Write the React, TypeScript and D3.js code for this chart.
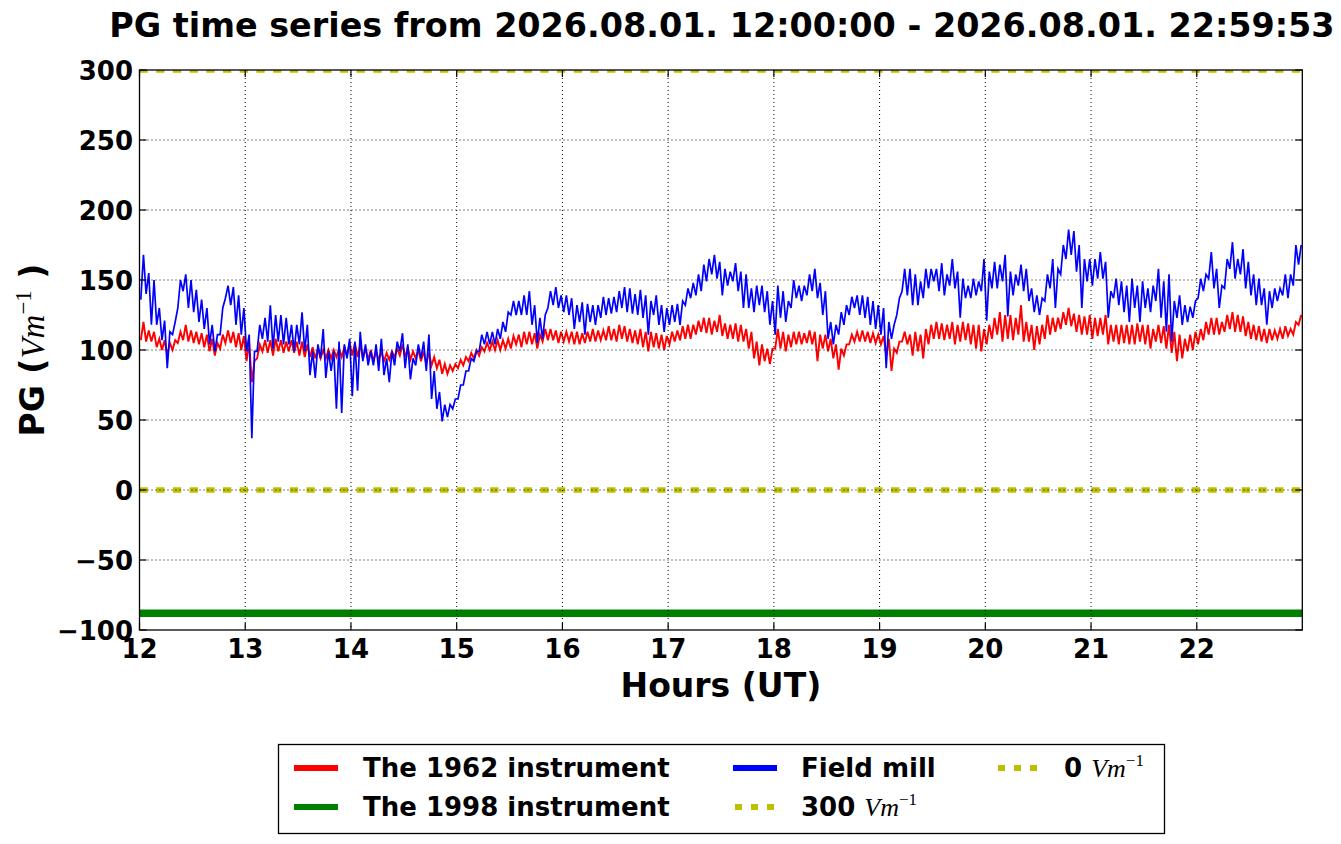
import React from "react";
import * as d3 from "d3";

const W = 1341;
const H = 844;

const titleText = "PG time series from 2026.08.01. 12:00:00 - 2026.08.01. 22:59:53";
const xTicks = [12, 13, 14, 15, 16, 17, 18, 19, 20, 21, 22];
const yTicks = [-100, -50, 0, 50, 100, 150, 200, 250, 300];
const startHour = 12;
const endHour = 22.998;
const binHours = 0.05;

// Field mill: low / high of each 3-minute bin
const blueLow = [
  136,140,118,118,107,87,111,130,142,130,127,120,115,104,99,111,137,132,118,111,
  99,37,99,108,106,101,106,104,104,99,104,99,82,80,94,80,85,58,55,94,
  67,71,92,89,89,85,82,77,89,99,87,79,89,94,85,65,58,49,52,58,
  65,75,85,92,99,104,104,104,108,113,125,125,125,
  125,118,105,108,130,132,130,127,125,115,120,111,120,118,123,125,126,127,130,127,
  126,125,123,111,125,118,113,118,120,118,132,137,139,142,149,154,151,139,146,149,
  142,130,130,127,132,127,118,111,123,120,130,137,135,139,142,137,125,108,104,111,
  118,125,130,125,123,118,115,111,87,108,125,142,139,132,
  132,137,144,149,142,139,146,144,123,137,137,139,142,121,144,144,149,124,139,146,
  142,135,127,125,135,144,130,154,165,168,156,130,149,146,151,151,123,137,132,127,
  120,130,120,130,127,135,123,113,106,123,118,120,123,137,142,151,144,130,144,158,
  151,154,144,139,132,132,118,130,135,139,137,146,161
];
const blueHigh = [
  168,155,150,130,121,113,120,150,154,150,143,136,130,118,111,130,146,145,139,130,
  111,99,118,123,132,125,125,123,118,118,127,118,99,104,115,99,99,106,104,108,
  106,113,104,99,104,108,94,99,106,112,104,94,104,106,111,85,70,61,61,65,
  75,85,94,99,111,113,113,115,120,127,135,135,139,
  142,132,123,125,142,145,139,139,137,132,134,133,132,132,138,137,138,142,145,144,
  140,143,139,135,139,132,130,132,133,135,144,148,154,161,165,168,163,158,156,162,
  156,154,144,146,146,142,135,146,142,135,150,146,146,154,158,148,142,120,118,127,
  132,138,139,139,138,135,132,130,120,118,137,158,158,154,
  149,158,158,158,162,154,165,156,151,146,151,149,165,156,163,161,168,156,154,161,
  158,144,139,137,154,165,158,175,186,185,175,165,165,165,170,163,142,151,149,146,
  151,146,149,144,146,158,149,154,135,139,132,131,135,151,154,170,158,146,165,177,
  165,172,163,154,151,144,142,144,144,154,154,175,175
];

// The 1962 instrument: low / high of each 3-minute bin
const redLow = [
  107,106,106,102,100,96,100,105,107,106,105,104,102,99,96,101,105,105,102,100,
  92,77,94,99,98,96,99,98,99,98,96,95,95,94,94,94,94,95,95,96,
  96,95,94,93,92,93,92,93,95,96,95,93,94,92,90,89,87,83,83,85,
  87,89,92,94,96,99,100,100,100,101,101,104,102,
  104,104,101,106,107,107,105,106,106,104,104,105,106,106,107,107,107,106,108,106,
  105,104,102,99,102,101,100,104,106,107,108,108,111,113,112,111,113,110,108,108,
  106,106,101,94,89,92,90,101,101,99,102,104,104,105,104,92,101,99,94,86,
  96,104,106,106,106,105,105,104,96,85,98,106,104,96,
  99,94,104,108,108,107,108,104,106,107,104,101,99,104,108,111,106,108,107,111,
  106,106,100,104,108,111,113,115,118,117,113,111,111,108,110,111,104,106,104,105,
  104,104,106,104,101,106,105,101,98,92,94,99,100,104,107,111,111,111,113,115,
  113,113,110,108,107,106,105,107,108,108,110,111,118
];
const redHigh = [
  120,114,113,108,107,105,107,113,118,114,113,112,111,108,105,111,114,113,112,110,
  105,92,104,107,107,108,107,106,107,106,106,104,102,101,100,100,100,101,102,105,
  105,104,101,100,99,99,98,99,101,104,102,99,100,99,98,95,93,90,89,90,
  93,95,98,100,102,105,106,107,107,108,110,111,113,
  113,112,111,115,115,114,113,113,113,113,112,113,115,114,114,117,115,118,117,115,
  114,115,113,113,112,111,110,113,114,117,118,118,121,123,123,121,125,119,118,119,
  118,115,113,106,104,101,101,115,113,111,113,113,112,114,113,111,111,108,104,101,
  104,111,113,114,113,112,111,110,108,101,106,113,111,113,
  111,115,118,120,119,118,120,118,120,119,118,118,115,118,123,127,125,125,123,132,
  120,118,117,118,125,123,123,127,130,126,125,124,125,123,123,125,118,118,118,118,
  118,119,118,118,115,118,117,118,113,111,108,111,113,115,120,123,123,120,125,127,
  125,124,120,118,117,115,115,114,115,117,115,120,125
];

const instrument1998Level = -88;
const refZero = 0;
const ref300 = 300;

const FONT = "'DejaVu Sans', sans-serif";
const MATH = "'Liberation Serif', 'DejaVu Serif', serif";

const COL_RED = "#ff0000";
const COL_BLUE = "#0000ff";
const COL_GREEN = "#008000";
const COL_YEL = "#bfbf00";

export default function App() {
  const L = 139.5, R = 1302.3, T = 70, B = 630;
  const x = d3.scaleLinear().domain([startHour, endHour]).range([L, R]);
  const y = d3.scaleLinear().domain([-100, 300]).range([B, T]);

  const toPoints = (lo: number[], hi: number[]) =>
    lo.flatMap((l, i) => [
      [startHour + (i + 0.25) * binHours, l] as [number, number],
      [startHour + (i + 0.75) * binHours, hi[i]] as [number, number],
    ]);
  const line = d3
    .line<[number, number]>()
    .x((d) => x(d[0]))
    .y((d) => y(d[1]));

  const redPath = line(toPoints(redLow, redHigh)) || "";
  const bluePath = line(toPoints(blueLow, blueHigh)) || "";

  const hline = (v: number) => `M${x(startHour)},${y(v)}H${x(endHour)}`;

  return (
    <div style={{ position: "absolute", left: 0, top: 0 }}>
      <svg width={W} height={H} style={{ display: "block", background: "#fff" }}>
        <defs>
          <clipPath id="plotclip">
            <rect x={L} y={T} width={R - L} height={B - T} />
          </clipPath>
        </defs>
        <rect x={0} y={0} width={W} height={H} fill="#fff" />

        {/* title */}
        <text x={(L + R) / 2 + 1} y={37} textAnchor="middle" fontFamily={FONT} fontWeight="bold" fontSize={33.4}>
          {titleText}
        </text>

        <g clipPath="url(#plotclip)">
          <path d={redPath} fill="none" stroke={COL_RED} strokeWidth={1.9} />
          <path d={hline(instrument1998Level)} stroke={COL_GREEN} strokeWidth={7.5} fill="none" />
          <path d={bluePath} fill="none" stroke={COL_BLUE} strokeWidth={1.7} />
          <path d={hline(ref300)} stroke={COL_YEL} strokeWidth={5.5} strokeDasharray="8.3 8.4" fill="none" />
          <path d={hline(refZero)} stroke={COL_YEL} strokeWidth={5.5} strokeDasharray="8.3 8.4" fill="none" />
        </g>

        {/* grid (drawn over data, classic style) */}
        <g stroke="#000" strokeWidth={1} strokeDasharray="1 3" fill="none">
          {xTicks.filter((t) => t > startHour).map((t) => (
            <path key={"gx" + t} d={`M${x(t)},${T}V${B}`} />
          ))}
          {yTicks.filter((t) => t > -100 && t < 300).map((t) => (
            <path key={"gy" + t} d={`M${L},${y(t)}H${R}`} />
          ))}
        </g>

        {/* ticks, inward on all sides */}
        <g stroke="#000" strokeWidth={1.2}>
          {xTicks.map((t) => (
            <g key={"tx" + t}>
              <line x1={x(t)} x2={x(t)} y1={B} y2={B - 7} />
              <line x1={x(t)} x2={x(t)} y1={T} y2={T + 7} />
            </g>
          ))}
          {yTicks.map((t) => (
            <g key={"ty" + t}>
              <line x1={L} x2={L + 7} y1={y(t)} y2={y(t)} />
              <line x1={R} x2={R - 7} y1={y(t)} y2={y(t)} />
            </g>
          ))}
        </g>

        {/* frame */}
        <rect x={L} y={T} width={R - L} height={B - T} fill="none" stroke="#000" strokeWidth={1.3} />

        {/* tick labels */}
        <g fontFamily={FONT} fontWeight="bold" fontSize={26}>
          {xTicks.map((t) => (
            <text key={"lx" + t} x={x(t)} y={658} textAnchor="middle">
              {String(t)}
            </text>
          ))}
          {yTicks.map((t) => (
            <text key={"ly" + t} x={133} y={y(t) + 9.5} textAnchor="end">
              {t < 0 ? "\u2212" + Math.abs(t) : String(t)}
            </text>
          ))}
        </g>

        {/* axis labels */}
        <text x={(L + R) / 2} y={697} textAnchor="middle" fontFamily={FONT} fontWeight="bold" fontSize={33}>
          Hours (UT)
        </text>
        <text transform={`translate(44,${(T + B) / 2}) rotate(-90)`} textAnchor="middle" fontSize={33}>
          <tspan fontFamily={FONT} fontWeight="bold">PG (</tspan>
          <tspan fontFamily={MATH} fontStyle="italic">Vm</tspan>
          <tspan fontFamily={MATH} fontSize={23} dy={-13}>{"\u2212"}1</tspan>
          <tspan fontFamily={FONT} fontWeight="bold" dy={13}> )</tspan>
        </text>

        {/* legend */}
        <rect x={278.5} y={744.5} width={886} height={89} fill="#fff" stroke="#000" strokeWidth={1.3} />
        <g fontFamily={FONT} fontWeight="bold" fontSize={26}>
          <line x1={294} x2={338} y1={768} y2={768} stroke={COL_RED} strokeWidth={6} />
          <text x={363} y={777}>The 1962 instrument</text>
          <line x1={294} x2={338} y1={807} y2={807} stroke={COL_GREEN} strokeWidth={6} />
          <text x={363} y={816}>The 1998 instrument</text>

          <line x1={733} x2={777} y1={768} y2={768} stroke={COL_BLUE} strokeWidth={6} />
          <text x={801} y={777}>Field mill</text>
          <line x1={735} x2={775} y1={807} y2={807} stroke={COL_YEL} strokeWidth={6} strokeDasharray="7 9" />
          <text x={801} y={816}>
            <tspan>300 </tspan>
            <tspan fontFamily={MATH} fontStyle="italic" fontWeight="normal">Vm</tspan>
            <tspan fontFamily={MATH} fontWeight="normal" fontSize={17} dy={-11}>{"\u2212"}1</tspan>
          </text>

          <line x1={998} x2={1038} y1={768} y2={768} stroke={COL_YEL} strokeWidth={6} strokeDasharray="7 9" />
          <text x={1064} y={777}>
            <tspan>0 </tspan>
            <tspan fontFamily={MATH} fontStyle="italic" fontWeight="normal">Vm</tspan>
            <tspan fontFamily={MATH} fontWeight="normal" fontSize={17} dy={-11}>{"\u2212"}1</tspan>
          </text>
        </g>
      </svg>
    </div>
  );
}
